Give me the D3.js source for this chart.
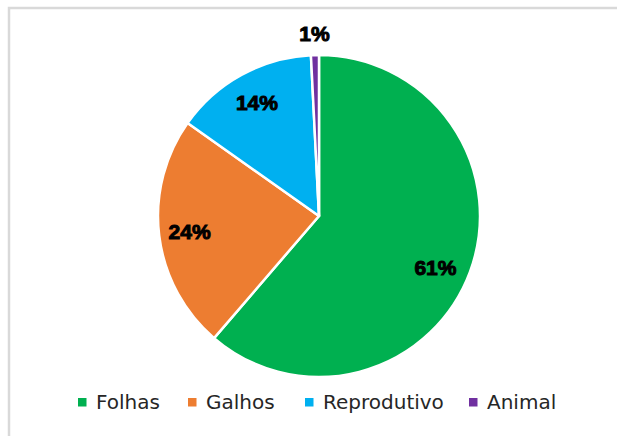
<!DOCTYPE html>
<html>
<head>
<meta charset="utf-8">
<script src="https://cdn.jsdelivr.net/npm/d3@7"></script>
<style>
  body { margin: 0; background: #fff; }
</style>
</head>
<body>
<script>
//chart data
var categories = ["Folhas", "Galhos", "Reprodutivo", "Animal"];
var values = [61.3, 23.5, 14.4, 0.8];
var labels = ["61%", "24%", "14%", "1%"];
var colors = ["#00B050", "#ED7D31", "#00B0F0", "#7030A0"];

var width = 617,
    height = 436;

var svg = d3.select("body")
    .append("svg")
    .attr("width", width)
    .attr("height", height);

//chart frame (only top and left edges show)
svg.append("rect")
    .attr("x", 9)
    .attr("y", 8)
    .attr("width", 640)
    .attr("height", 460)
    .attr("fill", "none")
    .attr("stroke", "#d9d9d9")
    .attr("stroke-width", 2.5);

var cx = 319, cy = 216, r = 161;

var pie = d3.pie().sort(null);
var arcs = pie(values);

var arc = d3.arc().innerRadius(0).outerRadius(r);

var g = svg.append("g")
    .attr("transform", "translate(" + cx + "," + cy + ")");

g.selectAll(".slice")
    .data(arcs)
    .enter()
    .append("path")
    .attr("class", "slice")
    .attr("d", arc)
    .attr("fill", function(d, i){ return colors[i]; })
    .attr("stroke", "#fff")
    .attr("stroke-width", 2.5)
    .attr("stroke-linejoin", "round");

//label radius per slice (tiny slice is labelled outside)
var labelRadius = [0.79, 0.81, 0.8, 1.13];

g.selectAll(".lbl")
    .data(arcs)
    .enter()
    .append("text")
    .attr("class", "lbl")
    .attr("transform", function(d, i){
        var a = (d.startAngle + d.endAngle) / 2;
        if (i == 0) a += 0.06;
        var rr = r * labelRadius[i];
        return "translate(" + (Math.sin(a) * rr) + "," + (-Math.cos(a) * rr) + ")";
    })
    .attr("text-anchor", "middle")
    .attr("dy", "0.35em")
    .style("font-family", "'Liberation Sans', Arial, sans-serif")
    .style("font-weight", "bold")
    .style("font-size", "21px")
    .style("stroke", "#000")
    .style("stroke-width", 1)
    .style("fill", "#000")
    .text(function(d, i){ return labels[i]; });

//legend
var legendX = [78, 188, 305, 469];
var legend = svg.selectAll(".legend")
    .data(categories)
    .enter()
    .append("g")
    .attr("class", "legend")
    .attr("transform", function(d, i){ return "translate(" + legendX[i] + ",402)"; });

legend.append("rect")
    .attr("x", 0)
    .attr("y", -4)
    .attr("width", 8.5)
    .attr("height", 8.5)
    .attr("fill", function(d, i){ return colors[i]; });

legend.append("text")
    .attr("x", 18)
    .attr("dy", "0.36em")
    .style("font-family", "'DejaVu Sans', sans-serif")
    .style("font-size", "20px")
    .style("fill", "#262626")
    .text(function(d){ return d; });
</script>
</body>
</html>
